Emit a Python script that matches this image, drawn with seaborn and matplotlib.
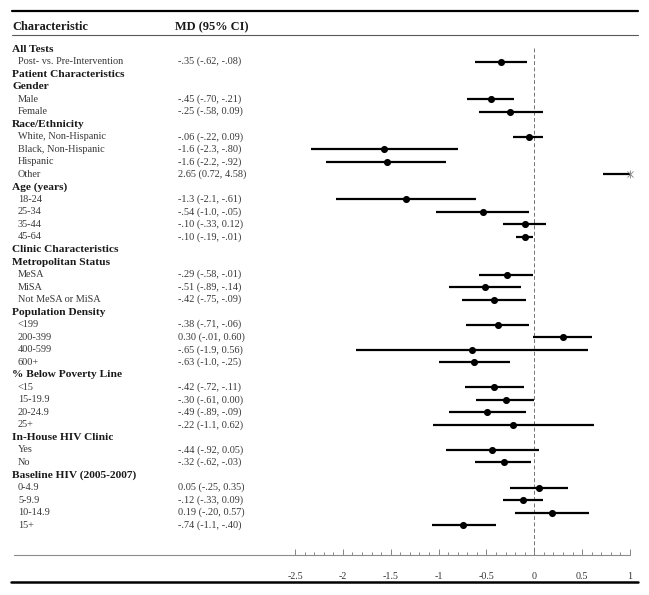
import numpy as np
import pandas as pd
import matplotlib
matplotlib.use("Agg")
import matplotlib.pyplot as plt
from matplotlib.lines import Line2D
import seaborn as sns

# rows of the forest plot (headers have no estimate)
labels = [
    "All Tests", "Post- vs. Pre-Intervention",
    "Patient Characteristics",
    "Gender", "Male", "Female",
    "Race/Ethnicity", "White, Non-Hispanic", "Black, Non-Hispanic", "Hispanic", "Other",
    "Age (years)", "18-24", "25-34", "35-44", "45-64",
    "Clinic Characteristics",
    "Metropolitan Status", "MeSA", "MiSA", "Not MeSA or MiSA",
    "Population Density", "<199", "200-399", "400-599", "600+",
    "% Below Poverty Line", "<15", "15-19.9", "20-24.9", "25+",
    "In-House HIV Clinic", "Yes", "No",
    "Baseline HIV (2005-2007)", "0-4.9", "5-9.9", "10-14.9", "15+",
]
is_header = [
    1, 0,
    1,
    1, 0, 0,
    1, 0, 0, 0, 0,
    1, 0, 0, 0, 0,
    1,
    1, 0, 0, 0,
    1, 0, 0, 0, 0,
    1, 0, 0, 0, 0,
    1, 0, 0,
    1, 0, 0, 0, 0,
]
md_text = [
    "", "-.35 (-.62, -.08)",
    "",
    "", "-.45 (-.70, -.21)", "-.25 (-.58, 0.09)",
    "", "-.06 (-.22, 0.09)", "-1.6 (-2.3, -.80)", "-1.6 (-2.2, -.92)", "2.65 (0.72, 4.58)",
    "", "-1.3 (-2.1, -.61)", "-.54 (-1.0, -.05)", "-.10 (-.33, 0.12)", "-.10 (-.19, -.01)",
    "",
    "", "-.29 (-.58, -.01)", "-.51 (-.89, -.14)", "-.42 (-.75, -.09)",
    "", "-.38 (-.71, -.06)", "0.30 (-.01, 0.60)", "-.65 (-1.9, 0.56)", "-.63 (-1.0, -.25)",
    "", "-.42 (-.72, -.11)", "-.30 (-.61, 0.00)", "-.49 (-.89, -.09)", "-.22 (-1.1, 0.62)",
    "", "-.44 (-.92, 0.05)", "-.32 (-.62, -.03)",
    "", "0.05 (-.25, 0.35)", "-.12 (-.33, 0.09)", "0.19 (-.20, 0.57)", "-.74 (-1.1, -.40)",
]
nan = np.nan
md = [
    nan, -0.35,
    nan,
    nan, -0.45, -0.25,
    nan, -0.06, -1.57, -1.54, 2.65,
    nan, -1.34, -0.54, -0.10, -0.10,
    nan,
    nan, -0.29, -0.51, -0.42,
    nan, -0.38, 0.30, -0.65, -0.63,
    nan, -0.42, -0.30, -0.49, -0.22,
    nan, -0.44, -0.32,
    nan, 0.05, -0.12, 0.19, -0.74,
]
lo = [
    nan, -0.62,
    nan,
    nan, -0.70, -0.58,
    nan, -0.22, -2.33, -2.18, 0.72,
    nan, -2.07, -1.03, -0.33, -0.19,
    nan,
    nan, -0.58, -0.89, -0.75,
    nan, -0.71, -0.01, -1.86, -1.00,
    nan, -0.72, -0.61, -0.89, -1.06,
    nan, -0.92, -0.62,
    nan, -0.25, -0.33, -0.20, -1.07,
]
hi = [
    nan, -0.08,
    nan,
    nan, -0.21, 0.09,
    nan, 0.09, -0.80, -0.92, 4.58,
    nan, -0.61, -0.05, 0.12, -0.01,
    nan,
    nan, -0.01, -0.14, -0.09,
    nan, -0.06, 0.60, 0.56, -0.25,
    nan, -0.11, 0.00, -0.09, 0.62,
    nan, 0.05, -0.03,
    nan, 0.35, 0.09, 0.57, -0.40,
]
tick_vals = [-2.5, -2, -1.5, -1, -0.5, 0, 0.5, 1]
tick_text = ["-2.5", "-2", "-1.5", "-1", "-0.5", "0", "0.5", "1"]

df = pd.DataFrame({"label": labels, "header": is_header, "text": md_text,
                   "md": md, "lo": lo, "hi": hi})
df["row"] = np.arange(len(df))

sns.set_theme(style="white")
plt.rcParams["font.family"] = ["Liberation Serif", "DejaVu Serif"]

W, H = 649, 595
fig = plt.figure(figsize=(W / 100, H / 100), dpi=100)

# pixel helpers
def fx(px):
    return px / W

def fy(py):
    return 1 - py / H

row0, step = 49.0, 12.53
ax_top, ax_bot = 43.0, 555.0
x_left, x_right = 295.0, 630.0
ax = fig.add_axes([fx(x_left), fy(ax_bot), fx(x_right) - fx(x_left), (ax_bot - ax_top) / H])
ax.set_xlim(-2.5, 1)
ax.set_ylim((ax_bot - row0) / step, (ax_top - row0) / step)

est = df[df["header"] == 0]
ax.hlines(est["row"], est["lo"], est["hi"], color="black", lw=1.6, zorder=2)
inside = est[est["md"] <= 1]
sns.scatterplot(data=inside, x="md", y="row", ax=ax, color="black", s=26,
                edgecolor="black", linewidth=0, zorder=3, legend=False)
# clipped interval marker
out = est[est["hi"] > 1]
ax.plot([1] * len(out), out["row"], marker="x", ms=5, mew=0.6, color="0.5",
        ls="none", clip_on=False, zorder=4)
ax.plot([1] * len(out), out["row"], marker="|", ms=6, mew=0.6, color="0.5",
        ls="none", clip_on=False, zorder=4)

ax.vlines(0, -0.1, (ax_bot - row0) / step, color="0.45", lw=0.7,
          linestyles=(0, (4, 2.5)), zorder=1)

for s in ax.spines.values():
    s.set_visible(False)
ax.set_xlabel("")
ax.set_ylabel("")
ax.set_yticks([])
ax.set_xticks(tick_vals)
ax.set_xticklabels(tick_text)
ax.set_xticks(np.round(np.arange(-2.5, 1.01, 0.1), 2), minor=True)
ax.tick_params(axis="x", which="major", direction="in", length=4, width=0.6,
               color="0.45", labelsize=7.2, labelcolor="0.2", pad=12, bottom=True)
ax.tick_params(axis="x", which="minor", direction="in", length=2.5, width=0.6,
               color="0.45", bottom=True)
ax.grid(False)

# table rules
fig.add_artist(Line2D([fx(12), fx(638)], [fy(11), fy(11)], color="black", lw=1.6))
fig.add_artist(Line2D([fx(12), fx(638)], [fy(35), fy(35)], color="0.35", lw=0.8))
fig.add_artist(Line2D([fx(14), fx(630)], [fy(555), fy(555)], color="0.55", lw=0.8))
fig.add_artist(Line2D([fx(11), fx(638)], [fy(582), fy(582)], color="black", lw=1.8))

fig.text(fx(12), fy(27), "Characteristic", fontsize=8.9, fontweight="bold",
         va="center", color="0.1")
fig.text(fx(175), fy(27), "MD (95% CI)", fontsize=8.9, fontweight="bold",
         va="center", color="0.1")

for _, r in df.iterrows():
    y = fy(row0 + step * r["row"])
    if r["header"]:
        fig.text(fx(12), y, r["label"], fontsize=8.2, fontweight="bold",
                 va="center", color="0.1")
    else:
        fig.text(fx(18), y, r["label"], fontsize=7.4, va="center", color="0.22")
        fig.text(fx(178), y, r["text"], fontsize=7.4, va="center", color="0.22")

fig.savefig("out.png", dpi=100)
